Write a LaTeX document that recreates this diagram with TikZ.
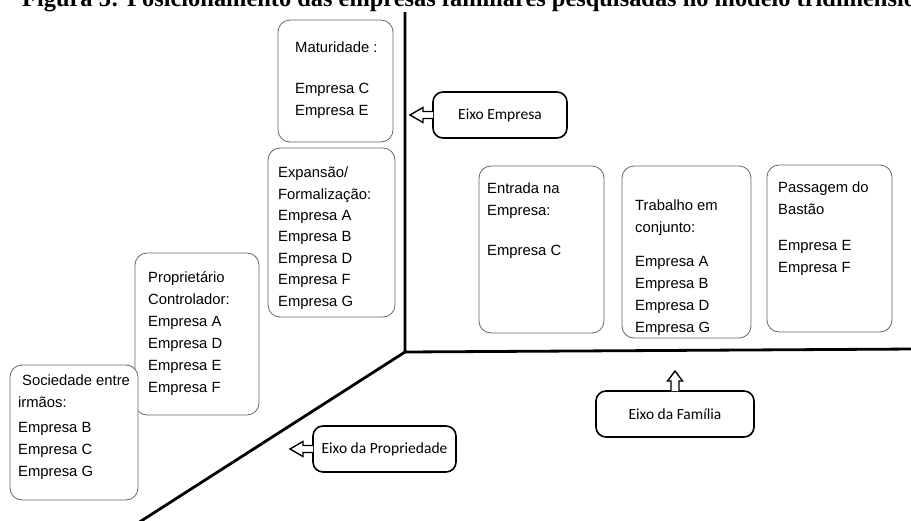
\documentclass[tikz,border=0pt]{standalone}
\usepackage{fontspec}
\setmainfont{Liberation Sans}
\newfontfamily\titlefont{Liberation Serif}
\newfontfamily\calfont{Carlito}
\usetikzlibrary{calc}
\begin{document}
\begin{tikzpicture}[x=1pt,y=-1pt,
  stage/.style={draw=black!60, line width=0.8pt, rounded corners=12pt, inner sep=0pt, outer sep=0pt},
  txt/.style={anchor=north west, inner sep=0pt, align=left, font=\fontsize{14.8}{22}\selectfont},
  axislab/.style={draw=black, line width=1.6pt, rounded corners=10pt, inner sep=0pt, outer sep=0pt,
    minimum height=46pt, font=\calfont\fontsize{15.5}{18}\selectfont},
  axisline/.style={line width=2.8pt, line cap=butt},
  hollow/.style={draw=black, line width=1.4pt, fill=white, line join=miter}]
\path[use as bounding box] (0,0) rectangle (911,520);
\clip (0,0) rectangle (911,520);

% title (cut at the top, as in the reference)
\node[anchor=base west, inner sep=0pt, font=\titlefont\bfseries\fontsize{24.4}{28}\selectfont]
  (title) at (22,6.3) {Figura 5: Posicionamento das empresas familiares pesquisadas no modelo tridimensional};

% axes
\coordinate (O) at (405,352);
\coordinate (T) at (405,12);
\coordinate (R) at (915,349);
\coordinate (B) at (138,523);
\draw[axisline] (T) -- (O) -- (R);
\draw[axisline] (O) -- (B);

% stage boxes
\node[stage, minimum width=115pt, minimum height=122pt] (mat)  at (335.5,81)   {};
\node[stage, minimum width=127pt, minimum height=169pt] (exp)  at (331.5,232.5) {};
\node[stage, minimum width=124pt, minimum height=162pt] (prop) at (197,334)    {};
\node[stage, minimum width=128pt, minimum height=135pt, fill=white] (soc) at (74,432.5) {};
\node[stage, minimum width=125pt, minimum height=167pt] (ent)  at (541.5,249.5) {};
\node[stage, minimum width=129pt, minimum height=172pt] (trab) at (686.5,252)  {};
\node[stage, minimum width=125pt, minimum height=167pt] (pass) at (829.5,248.5) {};

% texts
\node[txt] (matT)  at (295,41.7)  {Maturidade :\\[19pt]Empresa C\\Empresa E};
\node[txt, font=\fontsize{14.8}{21.4}\selectfont] (expT) at (278,166.7)
  {Expans\~ao/\\Formaliza\c c\~ao:\\Empresa A\\Empresa B\\Empresa D\\Empresa F\\Empresa G};
\node[txt] (propT) at (148,271.7) {Propriet\'ario\\Controlador:\\Empresa A\\Empresa D\\Empresa E\\Empresa F};
\node[txt] (socT)  at (18,374.7)  {\hspace*{4pt}Sociedade entre\\irm\~aos:\\[3pt]Empresa B\\Empresa C\\Empresa G};
\node[txt] (entT)  at (487,182.7) {Entrada na\\Empresa:\\[18pt]Empresa C};
\node[txt] (trabT) at (635,199.7) {Trabalho em\\conjunto:\\[12pt]Empresa A\\Empresa B\\Empresa D\\Empresa G};
\node[txt] (passT) at (778,181.7) {Passagem do\\Bast\~ao\\[14pt]Empresa E\\Empresa F};

% axis labels
\node[axislab, minimum width=134pt] (ee) at (500,115)   {Eixo Empresa};
\node[axislab, minimum width=158pt] (ef) at (675,414)   {Eixo da Fam\'ilia};
\node[axislab, minimum width=143pt] (ep) at (384.5,449) {Eixo da Propriedade};

% hollow block arrows
\draw[hollow] ($(ee.west)+(0,-3.5)$) -- ++(-10,0) -- ++(0,-4) -- ++(-13,7.5) -- ++(13,7.5) -- ++(0,-4) -- ++(10,0);
\draw[hollow] ($(ep.west)+(0,-3.5)$) -- ++(-10,0) -- ++(0,-4) -- ++(-13,7.5) -- ++(13,7.5) -- ++(0,-4) -- ++(10,0);
\draw[hollow] ($(ef.north)+(-4,0)$) -- ++(0,-10) -- ++(-3.5,0) -- ++(7.5,-10) -- ++(7.5,10) -- ++(-3.5,0) -- ++(0,10);
\end{tikzpicture}
\end{document}
